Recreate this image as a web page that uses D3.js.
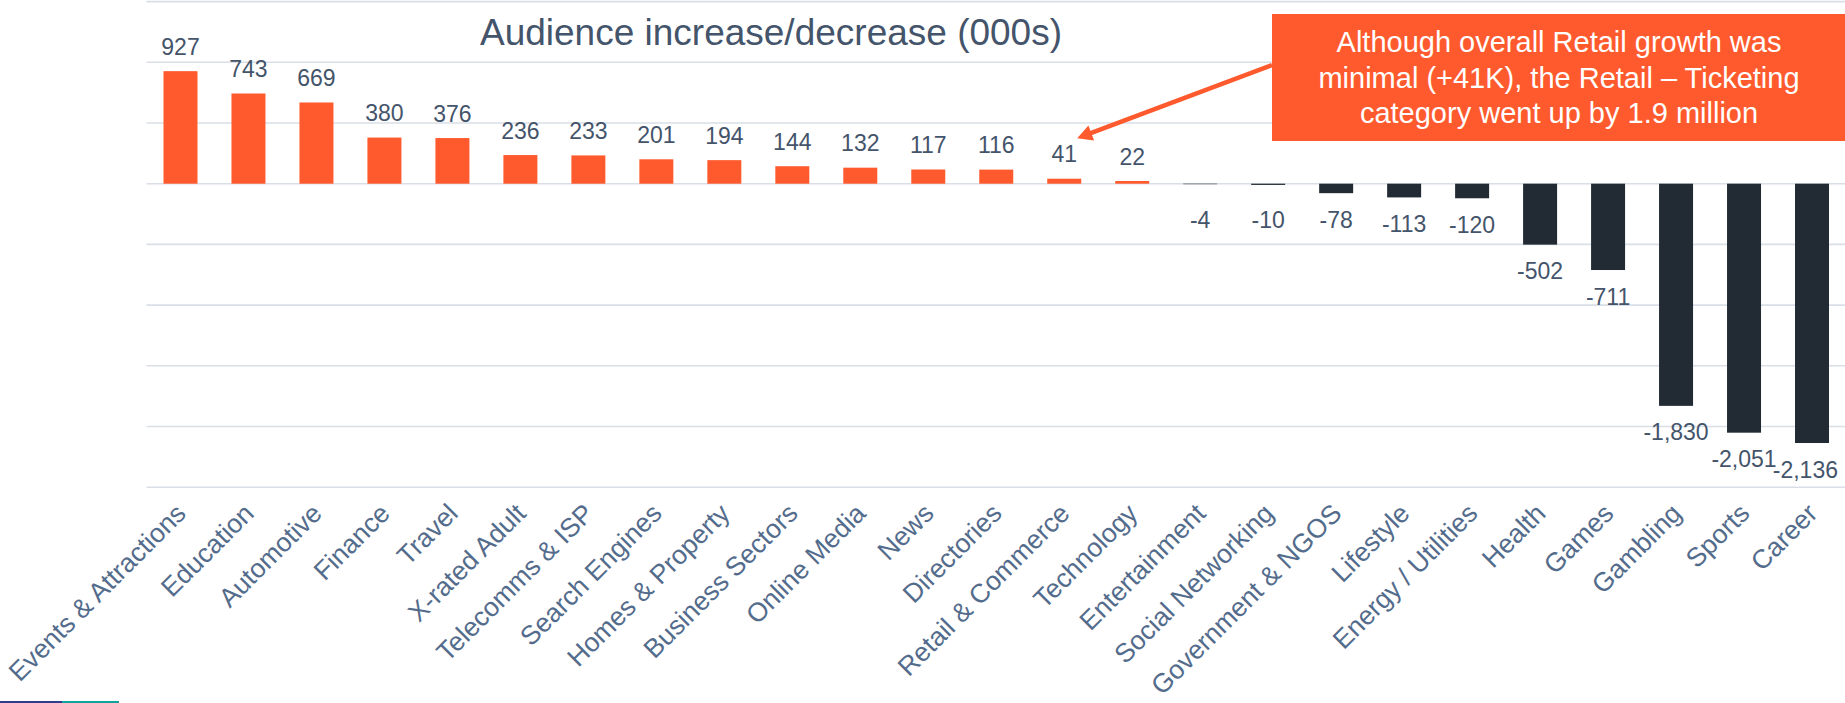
<!DOCTYPE html>
<html>
<head>
<meta charset="utf-8">
<script src="https://cdn.jsdelivr.net/npm/d3@7"></script>
<style>
  html, body { margin: 0; padding: 0; background: #ffffff; }
  svg { display: block; font-family: "Liberation Sans", Arial, Helvetica, sans-serif; }
</style>
</head>
<body>
<svg id="chart" width="1845" height="703"></svg>
<script>
// Audience change per category, in thousands
const categories = [
  "Events & Attractions", "Education", "Automotive", "Finance", "Travel",
  "X-rated Adult", "Telecomms & ISP", "Search Engines", "Homes & Property",
  "Business Sectors", "Online Media", "News", "Directories", "Retail & Commerce",
  "Technology", "Entertainment", "Social Networking", "Government & NGOS",
  "Lifestyle", "Energy / Utilities", "Health", "Games", "Gambling", "Sports", "Career"
];
const changes = [
  927, 743, 669, 380, 376, 236, 233, 201, 194, 144, 132, 117, 116, 41, 22,
  -4, -10, -78, -113, -120, -502, -711, -1830, -2051, -2136
];
const gridTicks = [1500, 1000, 500, 0, -500, -1000, -1500, -2000, -2500];
const chartTitle = "Audience increase/decrease (000s)";
const calloutLines = [
  "Although overall Retail growth was",
  "minimal (+41K), the Retail \u2013 Ticketing",
  "category went up by 1.9 million"
];
const calloutCategory = "Retail & Commerce";

const W = 1845, H = 703;
const ORANGE = "#FF5A2D", DARK = "#222A34";
const LABEL = "#44546A", AXIS_TEXT = "#546C8C", GRID = "#D9DEE7";

const svg = d3.select("#chart");

const x = d3.scaleBand()
  .domain(categories)
  .range([146.5, 1846])
  .paddingInner(0.5)
  .paddingOuter(0.25);

const y = d3.scaleLinear()
  .domain([-2500, 1500])
  .range([487.2, 1.6]);

const fmt = d3.formatLocale({
  decimal: ".", thousands: ",", grouping: [3], currency: ["", ""], minus: "-"
}).format(",");

// horizontal gridlines
svg.append("g")
  .selectAll("line")
  .data(gridTicks)
  .join("line")
  .attr("x1", 146.5)
  .attr("x2", W)
  .attr("y1", d => y(d))
  .attr("y2", d => y(d))
  .attr("stroke", GRID)
  .attr("stroke-width", 1.6);

const data = categories.map((c, i) => ({ c, v: changes[i] }));

// bars
svg.append("g")
  .selectAll("rect")
  .data(data)
  .join("rect")
  .attr("x", d => x(d.c))
  .attr("width", x.bandwidth())
  .attr("y", d => y(Math.max(0, d.v)))
  .attr("height", d => Math.abs(y(d.v) - y(0)))
  .attr("fill", d => d.v >= 0 ? ORANGE : DARK);

// value labels: above positive bars, below negative ones (kept clear of the axis)
const labelRight = 1838;
svg.append("g")
  .selectAll("text")
  .data(data)
  .join("text")
  .attr("font-size", 23)
  .attr("fill", LABEL)
  .attr("text-anchor", "middle")
  .attr("y", d => d.v >= 0 ? y(d.v) - 16.5 : Math.max(y(d.v) + 34.5, y(0) + 44))
  .text(d => fmt(d.v))
  .attr("x", function (d) {
    const cx = x(d.c) + x.bandwidth() / 2;
    const w = this.getComputedTextLength();
    return Math.min(cx, labelRight - w / 2);
  });

// category axis labels
svg.append("g")
  .selectAll("text")
  .data(categories)
  .join("text")
  .attr("font-size", 26.5)
  .attr("fill", AXIS_TEXT)
  .attr("text-anchor", "end")
  .attr("transform", c => `translate(${x(c) + x.bandwidth() / 2 + 7},515) rotate(-45)`)
  .text(c => c);

// title
svg.append("text")
  .attr("x", 771)
  .attr("y", 44.5)
  .attr("text-anchor", "middle")
  .attr("font-size", 37)
  .attr("fill", LABEL)
  .text(chartTitle);

// callout box
const box = { left: 1272, top: 14, right: W, bottom: 141 };
svg.append("rect")
  .attr("x", box.left)
  .attr("y", box.top)
  .attr("width", box.right - box.left)
  .attr("height", box.bottom - box.top)
  .attr("fill", ORANGE);

svg.append("g")
  .selectAll("text")
  .data(calloutLines)
  .join("text")
  .attr("x", 1559)
  .attr("y", (d, i) => 52 + i * 35.5)
  .attr("text-anchor", "middle")
  .attr("font-size", 29)
  .attr("fill", "#ffffff")
  .text(d => d);

// arrow from the callout to the Retail & Commerce value
const idx = categories.indexOf(calloutCategory);
const tip = [x(calloutCategory) + x.bandwidth() / 2 + 13, y(changes[idx]) - 16.5 - 24];
const start = [box.left, 65];
const dx = tip[0] - start[0], dy = tip[1] - start[1];
const len = Math.hypot(dx, dy);
const ux = dx / len, uy = dy / len;
const headLen = 15, headHalf = 8;
const base = [tip[0] - ux * headLen, tip[1] - uy * headLen];

svg.append("line")
  .attr("x1", start[0]).attr("y1", start[1])
  .attr("x2", base[0] + ux * 2).attr("y2", base[1] + uy * 2)
  .attr("stroke", ORANGE)
  .attr("stroke-width", 4.5);

svg.append("path")
  .attr("d", d3.line()([
    tip,
    [base[0] - uy * headHalf, base[1] + ux * headHalf],
    [base[0] + uy * headHalf, base[1] - ux * headHalf]
  ]) + "Z")
  .attr("fill", ORANGE);

// footer accent strip
svg.append("rect").attr("x", 0).attr("y", 701).attr("width", 62).attr("height", 2).attr("fill", "#2E3D8E");
svg.append("rect").attr("x", 62).attr("y", 701).attr("width", 57).attr("height", 2).attr("fill", "#12A19B");
</script>
</body>
</html>
